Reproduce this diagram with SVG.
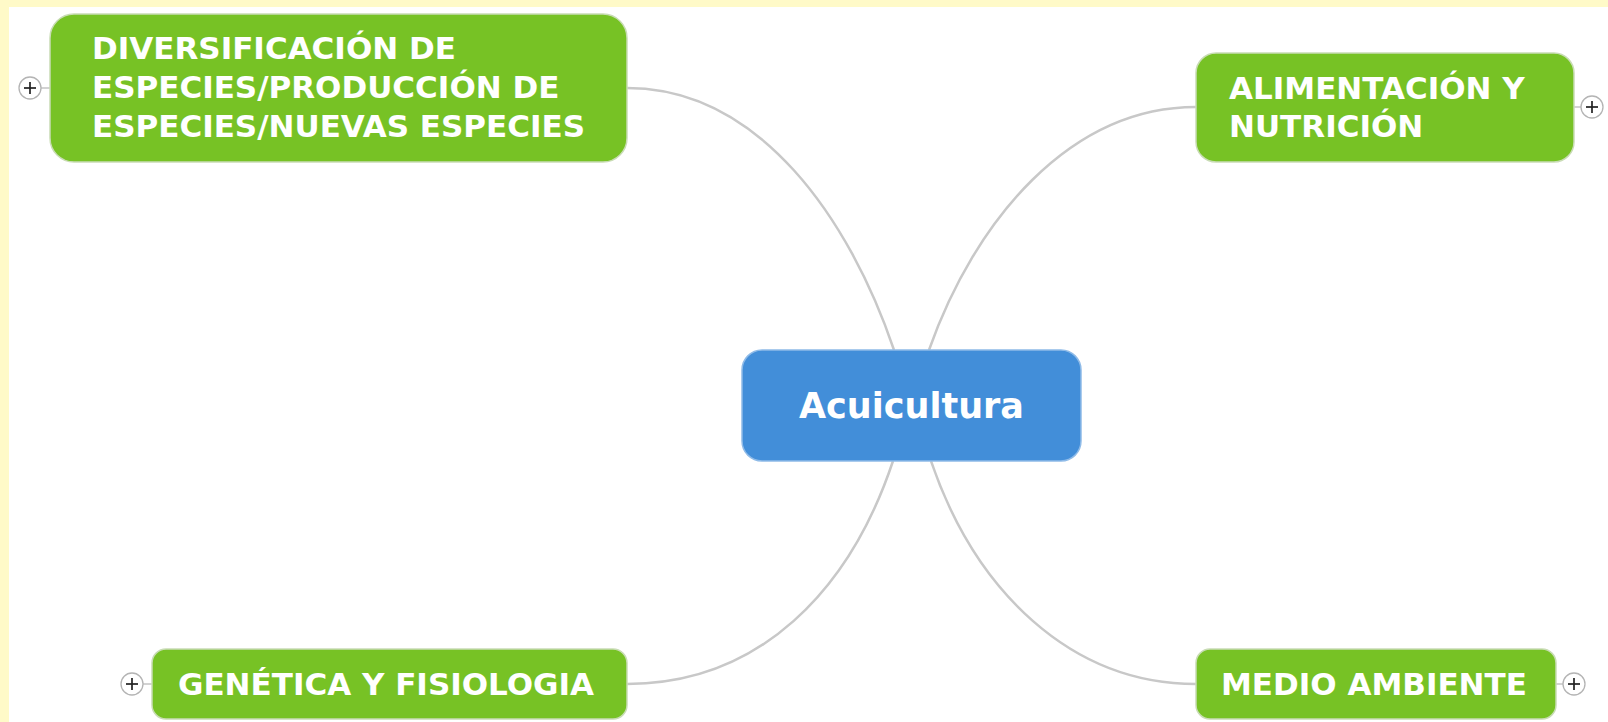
<svg xmlns="http://www.w3.org/2000/svg" width="1608" height="722" viewBox="0 0 1608 722">
<style>
.topic{fill:#77c225;stroke:#c9dcb5;stroke-width:1.5}
.central{fill:#428ed9;stroke:#8fbbe8;stroke-width:1.5}
.t{font-family:"DejaVu Sans",Verdana,sans-serif;font-weight:bold;fill:#ffffff;font-size:31px}
.ct{font-family:"DejaVu Sans",Verdana,sans-serif;font-weight:bold;fill:#ffffff;font-size:35px}
.conn{fill:none;stroke:#c8c8c8;stroke-width:2.5}
.pc{fill:#ffffff;stroke:#b4b4b4;stroke-width:1.3}
.pl{stroke:#222;stroke-width:1.7}
.stub{stroke:#b4b4b4;stroke-width:1.2}
</style>
<rect x="0" y="0" width="1608" height="722" fill="#fffac8"/>
<rect x="9" y="7" width="1599" height="715" fill="#ffffff"/>
<g id="connectors">
<path class="conn" d="M627,88 C760,88 850,220 894,350"/>
<path class="conn" d="M1196,107 C1070,107 975,220 929,350"/>
<path class="conn" d="M627,684 C760,684 850,590 893,461"/>
<path class="conn" d="M1196,684 C1070,684 975,590 931,461"/>
</g>
<g id="central">
<rect class="central" x="742" y="350" width="339" height="111" rx="20"/>
<text class="ct" x="911.5" y="418" text-anchor="middle">Acuicultura</text>
</g>
<g id="node-diversificacion">
<line class="stub" x1="41" y1="88" x2="50" y2="88"/>
<circle class="pc" cx="30" cy="88" r="11"/>
<line class="pl" x1="24" y1="88" x2="36" y2="88"/><line class="pl" x1="30" y1="82" x2="30" y2="94"/>
<rect class="topic" x="50" y="14" width="577" height="148" rx="24"/>
<text class="t" x="92" y="59">DIVERSIFICACIÓN DE</text>
<text class="t" x="92" y="98">ESPECIES/PRODUCCIÓN DE</text>
<text class="t" x="92" y="137">ESPECIES/NUEVAS ESPECIES</text>
</g>
<g id="node-alimentacion">
<line class="stub" x1="1574" y1="107" x2="1581" y2="107"/>
<circle class="pc" cx="1592" cy="107" r="11"/>
<line class="pl" x1="1586" y1="107" x2="1598" y2="107"/><line class="pl" x1="1592" y1="101" x2="1592" y2="113"/>
<rect class="topic" x="1196" y="53" width="378" height="109" rx="20"/>
<text class="t" x="1229" y="99">ALIMENTACIÓN Y</text>
<text class="t" x="1229" y="137">NUTRICIÓN</text>
</g>
<g id="node-genetica">
<line class="stub" x1="143" y1="684" x2="152" y2="684"/>
<circle class="pc" cx="132" cy="684" r="11"/>
<line class="pl" x1="126" y1="684" x2="138" y2="684"/><line class="pl" x1="132" y1="678" x2="132" y2="690"/>
<rect class="topic" x="152" y="649" width="475" height="70" rx="14"/>
<text class="t" x="178" y="695">GENÉTICA Y FISIOLOGIA</text>
</g>
<g id="node-medio">
<line class="stub" x1="1556" y1="684" x2="1563" y2="684"/>
<circle class="pc" cx="1574" cy="684" r="11"/>
<line class="pl" x1="1568" y1="684" x2="1580" y2="684"/><line class="pl" x1="1574" y1="678" x2="1574" y2="690"/>
<rect class="topic" x="1196" y="649" width="360" height="70" rx="14"/>
<text class="t" x="1221" y="695">MEDIO AMBIENTE</text>
</g>
</svg>
